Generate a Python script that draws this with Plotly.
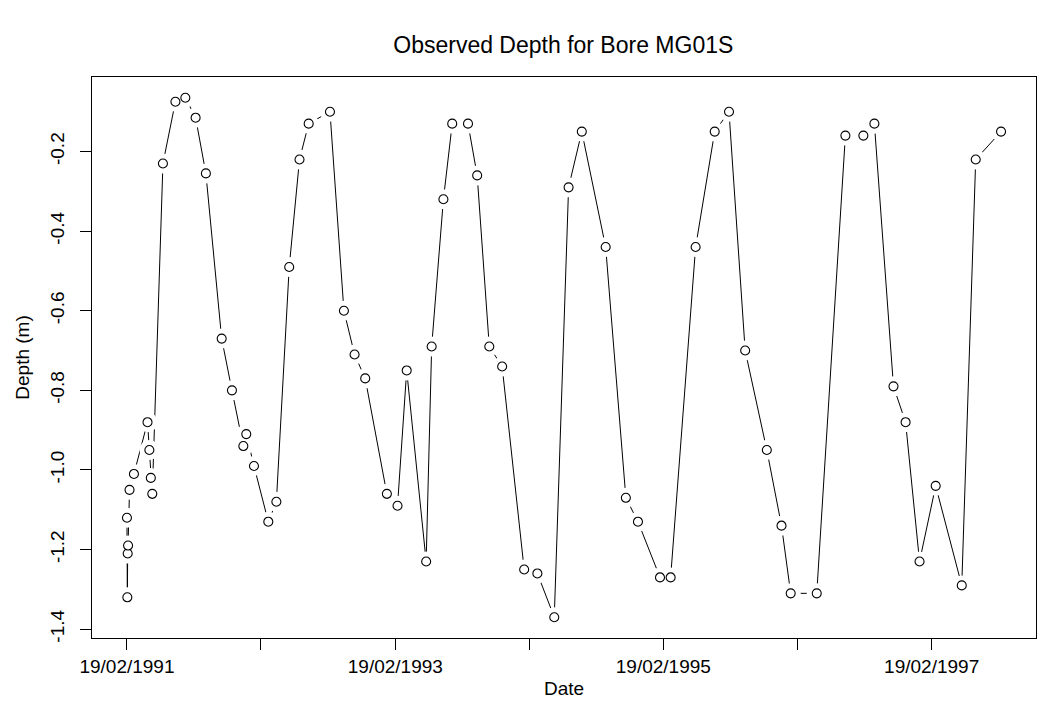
import pandas as pd
import plotly.graph_objects as go

# Observation dates and measured depths for bore MG01S
dates = [
    "1991-02-19", "1991-02-20", "1991-02-21", "1991-02-22", "1991-02-26", "1991-03-10",
    "1991-04-16", "1991-04-21", "1991-04-25", "1991-04-29", "1991-05-28", "1991-07-01",
    "1991-07-28", "1991-08-25", "1991-09-22", "1991-11-04", "1991-12-02", "1992-01-02",
    "1992-01-10", "1992-01-31", "1992-03-10", "1992-04-01", "1992-05-06", "1992-06-03",
    "1992-06-28", "1992-08-25", "1992-10-02", "1992-10-31", "1992-11-29", "1993-01-27",
    "1993-02-25", "1993-03-22", "1993-05-14", "1993-05-29", "1993-06-30", "1993-07-24",
    "1993-09-05", "1993-09-30", "1993-11-02", "1993-12-07", "1994-02-05", "1994-03-13",
    "1994-04-28", "1994-06-06", "1994-07-12", "1994-09-15", "1994-11-09", "1994-12-12",
    "1995-02-10", "1995-03-11", "1995-05-18", "1995-07-09", "1995-08-17", "1995-09-30",
    "1995-11-28", "1996-01-07", "1996-02-01", "1996-04-12", "1996-06-29", "1996-08-17",
    "1996-09-16", "1996-11-07", "1996-12-10", "1997-01-17", "1997-03-02", "1997-05-12",
    "1997-06-19", "1997-08-27",
]
depths = [
    -1.12, -1.32, -1.21, -1.19, -1.05, -1.01,
    -0.88, -0.95, -1.02, -1.06, -0.23, -0.075,
    -0.065, -0.115, -0.255, -0.67, -0.80, -0.94,
    -0.91, -0.99, -1.13, -1.08, -0.49, -0.22,
    -0.13, -0.10, -0.60, -0.71, -0.77, -1.06,
    -1.09, -0.75, -1.23, -0.69, -0.32, -0.13,
    -0.13, -0.26, -0.69, -0.74, -1.25, -1.26,
    -1.37, -0.29, -0.15, -0.44, -1.07, -1.13,
    -1.27, -1.27, -0.44, -0.15, -0.10, -0.70,
    -0.95, -1.14, -1.31, -1.31, -0.16, -0.16,
    -0.13, -0.79, -0.88, -1.23, -1.04, -1.29,
    -0.22, -0.15,
]

# Axis ticks
x_tick_dates = ["1991-02-19", "1992-02-19", "1993-02-19", "1994-02-19",
                "1995-02-19", "1996-02-19", "1997-02-19"]
x_tick_labels = ["19/02/1991", "", "19/02/1993", "", "19/02/1995", "", "19/02/1997"]
y_tick_values = [-1.4, -1.2, -1.0, -0.8, -0.6, -0.4, -0.2]
y_tick_labels = ["-1.4", "-1.2", "-1.0", "-0.8", "-0.6", "-0.4", "-0.2"]

x = pd.to_datetime(dates)

# Axis ranges padded by 4% of the data span on each side
x_span = x.max() - x.min()
x_range = [x.min() - 0.04 * x_span, x.max() + 0.04 * x_span]
y_span = max(depths) - min(depths)
y_range = [min(depths) - 0.04 * y_span, max(depths) + 0.04 * y_span]

FONT = "Liberation Sans, Arial, sans-serif"

fig = go.Figure()

# connecting line
fig.add_trace(go.Scatter(
    x=x, y=depths, mode="lines",
    line=dict(color="black", width=1),
    hoverinfo="skip", showlegend=False,
))
# white halo leaving a gap in the line around each point
fig.add_trace(go.Scatter(
    x=x, y=depths, mode="markers",
    marker=dict(symbol="circle", size=20, color="white", line=dict(width=0)),
    hoverinfo="skip", showlegend=False,
))
# open circle markers
fig.add_trace(go.Scatter(
    x=x, y=depths, mode="markers",
    marker=dict(symbol="circle", size=9, color="white",
                line=dict(color="black", width=1.1)),
    showlegend=False,
))

fig.update_layout(
    width=1037, height=726,
    margin=dict(l=92, r=1, t=77, b=88),
    paper_bgcolor="white", plot_bgcolor="white",
    font=dict(family=FONT, size=19, color="black"),
    title=dict(text="Observed Depth for Bore MG01S", x=0.5432, xanchor="center",
               y=1 - 45 / 726, yanchor="middle",
               font=dict(family=FONT, size=23, color="black")),
    showlegend=False,
)

fig.update_xaxes(
    type="date", range=x_range,
    tickmode="array", tickvals=pd.to_datetime(x_tick_dates), ticktext=x_tick_labels,
    ticks="outside", ticklen=11, tickwidth=1, tickcolor="black",
    showline=True, linecolor="black", linewidth=1, mirror=True,
    showgrid=False, zeroline=False,
    tickfont=dict(family=FONT, size=19, color="black"),
    title=dict(text="Date", standoff=5, font=dict(family=FONT, size=19, color="black")),
)
fig.update_yaxes(
    range=y_range,
    tickmode="array", tickvals=y_tick_values, ticktext=y_tick_labels,
    tickangle=-90, ticklabelstandoff=8,
    ticks="outside", ticklen=11, tickwidth=1, tickcolor="black",
    showline=True, linecolor="black", linewidth=1, mirror=True,
    showgrid=False, zeroline=False,
    tickfont=dict(family=FONT, size=19, color="black"),
    title=dict(text="Depth (m)", standoff=12, font=dict(family=FONT, size=19, color="black")),
)

fig.write_html("out.html")
